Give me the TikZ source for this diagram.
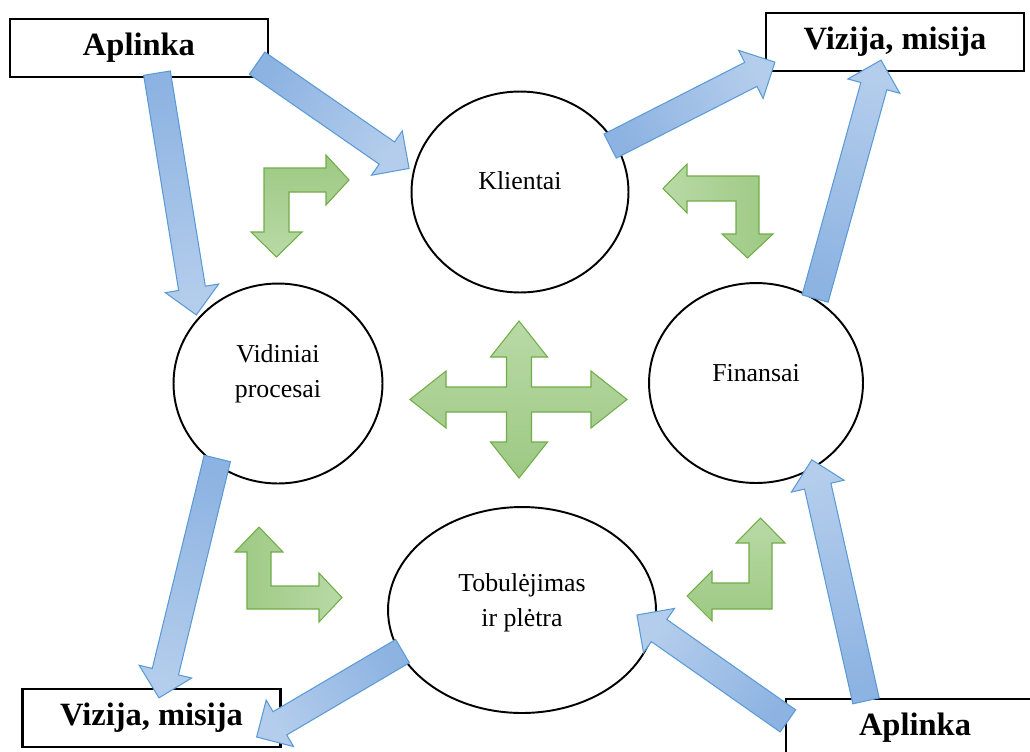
\documentclass[tikz,border=0pt]{standalone}
\usepackage{fontspec}
\setmainfont{Liberation Serif}
\usetikzlibrary{shapes.geometric,calc}

\definecolor{flowdark}{HTML}{8DB3E2}
\definecolor{flowlight}{HTML}{B4CDEC}
\definecolor{flowline}{HTML}{5B9BD5}
\definecolor{greendark}{HTML}{9DC983}
\definecolor{greenlight}{HTML}{B9D9A6}
\definecolor{greenline}{HTML}{70AD47}

% wide blue arrow from #1 (tail) to #2 (tip)
\newcommand{\flowarrow}[2]{%
  \path (#1) coordinate (ft) (#2) coordinate (fp);
  \path let \p1=(ft), \p2=(fp), \n1={atan2(\y2-\y1,\x2-\x1)-90} in \pgfextra{\xdef\flowangle{\n1}};
  \coordinate (fb) at ($(fp)!0.54cm!(ft)$);
  \draw[blockflow, shading angle=\flowangle] ($(ft)!0.27cm!90:(fp)$) -- ($(fb)!0.27cm!-90:(ft)$) -- ($(fb)!0.54cm!-90:(ft)$) -- (fp) -- ($(fb)!0.54cm!90:(ft)$) -- ($(fb)!0.27cm!90:(ft)$) -- ($(ft)!0.27cm!-90:(fp)$) -- cycle;
}

\begin{document}
\begin{tikzpicture}[x=0.02cm, y=-0.02cm,
    sidebox/.style={rectangle, draw, line width=1.3pt, fill=white, minimum width=5.16cm, minimum height=1.16cm, font=\bfseries\fontsize{18.5}{22}\selectfont},
    stage/.style={ellipse, draw, line width=1.1pt, fill=white, inner sep=0pt},
    stagetext/.style={align=center, font=\fontsize{14.7}{19.8}\selectfont},
    blockflow/.style={draw=flowline, line width=0.6pt, top color=flowlight, bottom color=flowdark},
    greenarrow/.style={draw=greenline, line width=0.6pt}
]
\useasboundingbox (0,0) rectangle (1030,751);
\clip (0,0) rectangle (1030,751);

% Laukai
\node[sidebox] (aplinkaA) at (139,48) {Aplinka};
\node[sidebox] (vizijaA) at (895,42) {Vizija, misija};
\node[sidebox] (vizijaB) at (151.5,718) {Vizija, misija};
\node[sidebox] (aplinkaB) at (915,728) {Aplinka};

% Perspektyvos
\node[stage, minimum width=4.34cm, minimum height=4.02cm] (klientai) at (520,192) {};
\node[stagetext] (klientaitxt) at ([yshift=0.22cm]klientai) {Klientai};
\node[stage, minimum width=4.18cm, minimum height=4cm] (vidiniai) at (278,383.5) {};
\node[stagetext] (vidiniaitxt) at ([yshift=0.2cm]vidiniai) {Vidiniai\\procesai};
\node[stage, minimum width=4.28cm, minimum height=4cm] (finansai) at (756,383) {};
\node[stagetext] (finansaitxt) at ([yshift=0.19cm]finansai) {Finansai};
\node[stage, minimum width=5.36cm, minimum height=4.12cm] (tobulejimas) at (522,610) {};
\node[stagetext] (tobulejimastxt) at ([yshift=0.14cm]tobulejimas) {Tobulėjimas\\ir plėtra};

% Zalios rodykles
\draw[greenarrow, top color=greendark, bottom color=greenlight] (264,168) -- (326,168) -- (326,155) -- (349,180) -- (326,205) -- (326,192) -- (289,192) -- (289,232) -- (302,232) -- (276.5,257) -- (251,232) -- (264,232) -- cycle;
\draw[greenarrow, left color=greenlight, right color=greendark] (759,176) -- (687,176) -- (687,164) -- (663,188.5) -- (687,213) -- (687,201) -- (736,201) -- (736,234) -- (722,234) -- (747.5,258) -- (773,234) -- (759,234) -- cycle;
\draw[greenarrow, left color=greendark, right color=greenlight] (247,609) -- (247,552) -- (235,552) -- (259,527) -- (283,552) -- (271,552) -- (271,586) -- (319,586) -- (319,573) -- (342,597.5) -- (319,622) -- (319,609) -- cycle;
\draw[greenarrow, top color=greenlight, bottom color=greendark] (772,609) -- (712,609) -- (712,621) -- (687,596) -- (712,571) -- (712,583) -- (749,583) -- (749,543) -- (736,543) -- (760.5,518) -- (785,543) -- (772,543) -- cycle;
\draw[greenarrow, top color=greenlight, bottom color=greendark] (519,321) -- (547.5,357) -- (531.5,357) -- (531.5,387) -- (591,387) -- (591,371) -- (627,399.5) -- (591,428) -- (591,412) -- (531.5,412) -- (531.5,442) -- (547.5,442) -- (519,478) -- (490.5,442) -- (506.5,442) -- (506.5,412) -- (446,412) -- (446,428) -- (410,399.5) -- (446,371) -- (446,387) -- (506.5,387) -- (506.5,357) -- (490.5,357) -- cycle;

% Melynos rodykles
\flowarrow{[xshift=0.36cm,yshift=0.1cm]aplinkaA.south}{$(vidiniai)!1.03!(vidiniai.140)$}
\flowarrow{[xshift=-0.24cm,yshift=0.3cm]aplinkaA.south east}{$(klientai)!1.04!(klientai.168)$}
\flowarrow{$(klientai)!0.94!(klientai.27)$}{[xshift=0.2cm,yshift=0.2cm]vizijaA.south west}
\flowarrow{finansai.55}{[xshift=-0.28cm,yshift=0.24cm]vizijaA.south}
\flowarrow{$(vidiniai)!0.94!(vidiniai.-129)$}{[xshift=0.15cm,yshift=-0.2cm]vizijaB.north}
\flowarrow{$(tobulejimas)!0.97!(tobulejimas.-161)$}{[xshift=-0.5cm,yshift=-0.38cm]vizijaB.east}
\flowarrow{[xshift=0.06cm,yshift=-0.46cm]aplinkaB.north west}{[xshift=-0.4cm,yshift=-0.1cm]tobulejimas.east}
\flowarrow{[xshift=-0.98cm,yshift=-0.06cm]aplinkaB.north}{$(finansai)!0.92!(finansai.-54)$}

\end{tikzpicture}
\end{document}
